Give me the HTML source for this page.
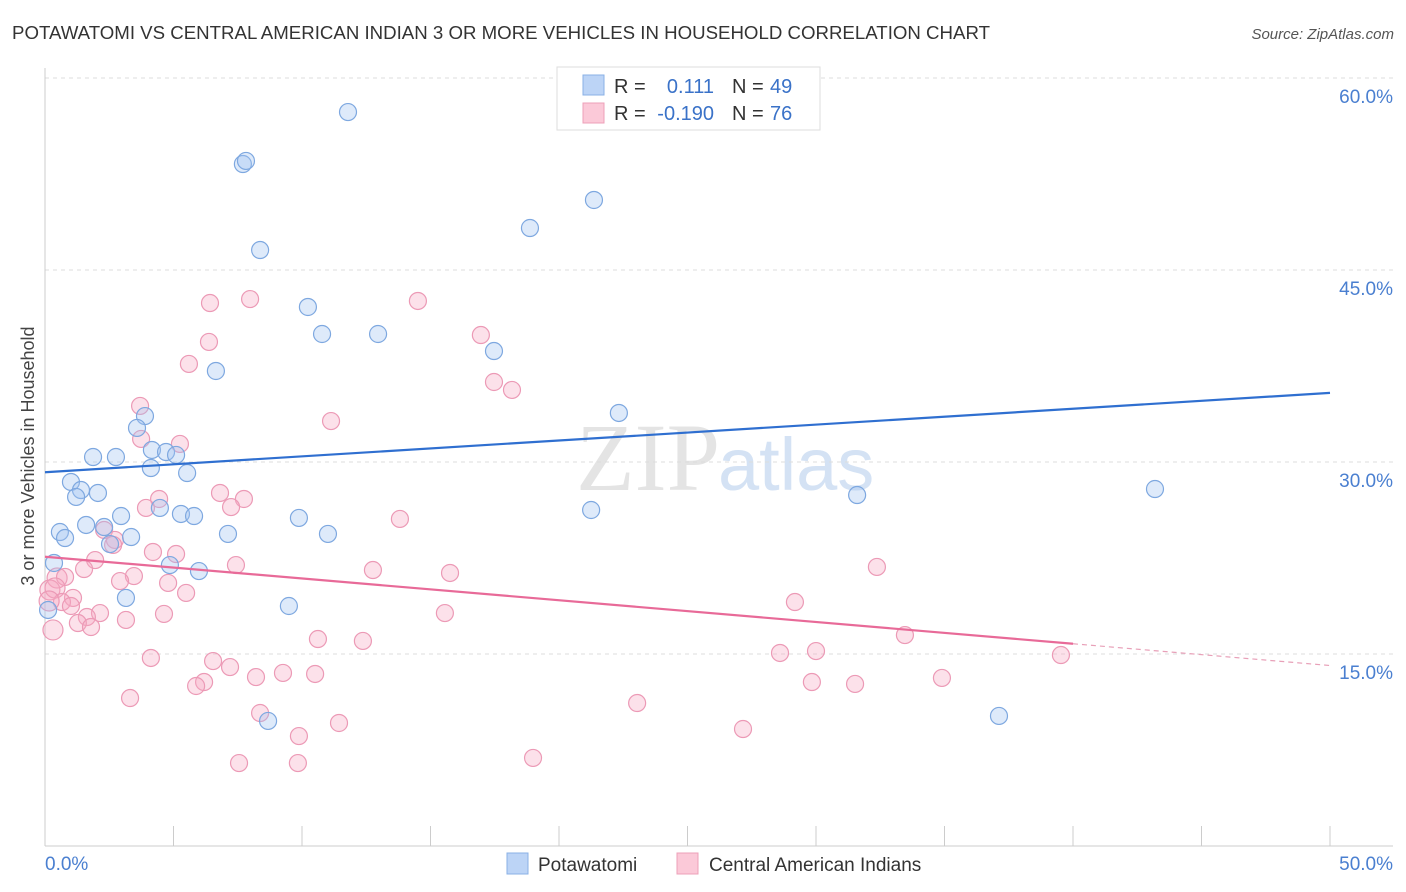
<!DOCTYPE html>
<html><head><meta charset="utf-8"><style>
body{margin:0;background:#fff;font-family:"Liberation Sans",sans-serif}
svg{display:block}
</style></head><body>
<svg id="c" width="1406" height="892">
<text x="12" y="39" font-size="18" fill="#333" textLength="978" lengthAdjust="spacingAndGlyphs">POTAWATOMI VS CENTRAL AMERICAN INDIAN 3 OR MORE VEHICLES IN HOUSEHOLD CORRELATION CHART</text>
<text x="1394" y="39" font-size="15" fill="#555" font-style="italic" text-anchor="end">Source: ZipAtlas.com</text>
<text x="720" y="490" font-size="96" fill="#e4e4e4" font-family="Liberation Serif" text-anchor="end">ZIP</text>
<text x="718" y="490" font-size="74" fill="#d4e2f4">atlas</text>
<g id="grid"></g><g id="axes"></g><g id="pts"></g><g id="lines"></g>
<text transform="translate(34,456) rotate(-90)" font-size="18" fill="#444" text-anchor="middle">3 or more Vehicles in Household</text>
<g>
<rect x="557" y="67" width="263" height="63" fill="#fff" stroke="#ddd"/>
<rect x="583" y="75" width="21" height="20" fill="#bcd4f6" stroke="#8ab0e6"/>
<rect x="583" y="103" width="21" height="20" fill="#fbc9d8" stroke="#eea0b8"/>
<text x="614" y="93" font-size="20" fill="#333">R =</text>
<text x="714" y="93" font-size="20" fill="#3a72c8" text-anchor="end">0.111</text>
<text x="732" y="93" font-size="20" fill="#333">N =</text><text x="770" y="93" font-size="20" fill="#3a72c8">49</text>
<text x="614" y="120" font-size="20" fill="#333">R =</text>
<text x="714" y="120" font-size="20" fill="#3a72c8" text-anchor="end">-0.190</text>
<text x="732" y="120" font-size="20" fill="#333">N =</text><text x="770" y="120" font-size="20" fill="#3a72c8">76</text>
</g>
<g>
<rect x="507" y="853" width="21" height="21" fill="#bcd4f6" stroke="#8ab0e6"/>
<text x="538" y="871" font-size="19" fill="#333">Potawatomi</text>
<rect x="677" y="853" width="21" height="21" fill="#fbc9d8" stroke="#eea0b8"/>
<text x="709" y="871" font-size="19" fill="#333">Central American Indians</text>
</g>
</svg>
<script>
const yTicks=[15,30,45,60];
const yTickLabels=["15.0%","30.0%","45.0%","60.0%"];
const xTicks=[0,5,10,15,20,25,30,35,40,45,50];
const blueX=[11.79,7.70,7.82,21.36,18.87,8.37,10.23,10.78,12.96,17.47,6.65,22.33,3.89,3.58,4.16,4.71,5.10,1.87,2.76,4.12,5.53,1.01,1.40,2.06,1.21,4.47,2.96,5.29,5.80,9.88,1.60,2.30,0.58,0.78,3.35,7.12,11.01,2.53,0.35,4.86,5.99,3.15,9.49,0.12,8.68,37.12,31.60,43.19,21.25];
const blueY=[57.34,53.28,53.52,50.47,48.28,46.56,42.11,40.0,40.0,38.67,37.11,33.83,33.59,32.66,30.94,30.78,30.55,30.39,30.39,29.53,29.14,28.44,27.81,27.58,27.27,26.41,25.78,25.94,25.78,25.63,25.08,24.92,24.53,24.06,24.14,24.38,24.38,23.59,22.11,21.95,21.48,19.38,18.75,18.44,9.77,10.16,27.42,27.89,26.25];
const pinkX=[7.98,6.42,14.51,6.38,16.96,5.60,17.47,18.17,3.70,11.13,3.74,5.25,6.81,7.74,4.44,3.93,7.24,13.81,2.30,2.72,2.65,4.20,5.10,1.95,7.43,1.52,12.76,15.76,32.37,0.47,0.78,3.46,2.92,4.79,5.49,0.19,0.39,1.09,0.66,1.01,2.14,1.63,4.63,3.15,15.56,29.18,1.28,1.79,0.31,10.62,12.37,33.46,4.12,28.60,30.0,39.53,6.54,7.20,8.21,9.26,10.51,6.19,5.88,29.84,31.52,34.90,3.31,23.04,8.37,11.44,9.88,27.16,7.55,9.84,18.99,0.16];
const pinkY=[42.73,42.42,42.58,39.38,39.92,37.66,36.25,35.63,34.38,33.20,31.80,31.41,27.58,27.11,27.11,26.41,26.48,25.55,24.69,23.91,23.52,22.97,22.81,22.34,21.95,21.64,21.56,21.33,21.80,20.94,21.02,21.09,20.70,20.55,19.77,20.0,20.16,19.38,19.06,18.75,18.20,17.89,18.13,17.66,18.20,19.06,17.42,17.11,16.88,16.17,16.02,16.48,14.69,15.08,15.23,14.92,14.45,13.98,13.20,13.52,13.44,12.81,12.50,12.81,12.66,13.13,11.56,11.17,10.39,9.61,8.59,9.14,6.48,6.48,6.88,19.14];
const blueTrend=[[0,29.2],[50,35.4]];
const pinkTrend=[[0,22.6],[40,15.8],[50,14.1]];
const X=v=>45+v*25.7, Y=v=>846-v*12.8;
const NS="http://www.w3.org/2000/svg";
function mk(p,t,a){const e=document.createElementNS(NS,t);for(const k in a)e.setAttribute(k,a[k]);document.getElementById(p).appendChild(e);return e;}
yTicks.forEach((t,i)=>{
 const g=mk('grid','line',{x1:45,x2:1393,y1:Y(t),y2:Y(t),stroke:'#ddd','stroke-dasharray':'4,4'});
 
 
 const l=mk('axes','text',{x:1393,y:Y(t)+25,'font-size':19,fill:'#4a7fd0','text-anchor':'end'});
 l.textContent=yTickLabels[i];
 
 
});
let ax=mk('axes','line',{x1:45,x2:45,y1:68,y2:846,stroke:'#ccc'});


ax=mk('axes','line',{x1:45,x2:1393,y1:846,y2:846,stroke:'#ccc'});


xTicks.forEach(t=>{const e=mk('axes','line',{x1:X(t),x2:X(t),y1:826,y2:846,stroke:'#ccc'});
 
 });
let xl=mk('axes','text',{x:45,y:870,'font-size':19,fill:'#4a7fd0'});xl.textContent='0.0%';


xl=mk('axes','text',{x:1393,y:870,'font-size':19,fill:'#4a7fd0','text-anchor':'end'});xl.textContent='50.0%';


pinkX.forEach((x,i)=>{const c=mk('pts','circle',{cx:X(x),cy:Y(pinkY[i]),r:(x<0.5?10:8.5),fill:'rgba(246,170,195,0.35)',stroke:'#ec9ab6','stroke-width':1.2});
 
 });
blueX.forEach((x,i)=>{const c=mk('pts','circle',{cx:X(x),cy:Y(blueY[i]),r:8.5,fill:'rgba(160,195,240,0.35)',stroke:'#7ea8e0','stroke-width':1.2});
 
 });
let t=mk('lines','line',{x1:X(blueTrend[0][0]),y1:Y(blueTrend[0][1]),x2:X(blueTrend[1][0]),y2:Y(blueTrend[1][1]),stroke:'#2f6fd0','stroke-width':2.2});


t=mk('lines','line',{x1:X(pinkTrend[0][0]),y1:Y(pinkTrend[0][1]),x2:X(pinkTrend[1][0]),y2:Y(pinkTrend[1][1]),stroke:'#e86a98','stroke-width':2.2});


t=mk('lines','line',{x1:X(pinkTrend[1][0]),y1:Y(pinkTrend[1][1]),x2:X(pinkTrend[2][0]),y2:Y(pinkTrend[2][1]),stroke:'#e8a0b8','stroke-width':1.2,'stroke-dasharray':'5,4'});


</script>
</body></html>
